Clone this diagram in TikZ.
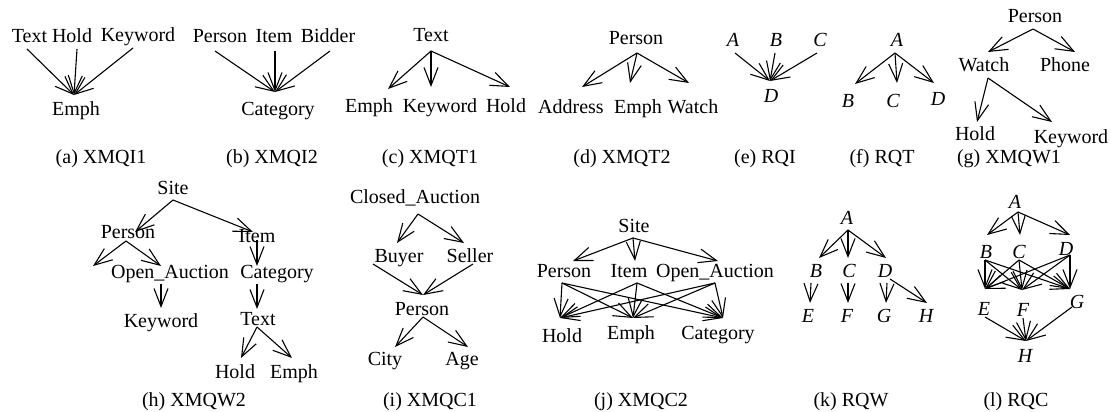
\documentclass[tikz,border=0pt]{standalone}
\usepackage{fontspec}
\setmainfont{Liberation Serif}
\usetikzlibrary{arrows.meta}

\tikzset{
  lb/.style={anchor=base, inner sep=0pt, outer xsep=0pt, outer ysep=2pt,
    text height=14pt, text depth=4pt, font=\fontsize{20}{24}\selectfont},
  it/.style={lb, font=\fontsize{20}{24}\selectfont\itshape},
  captxt/.style={anchor=base, inner sep=0pt, font=\fontsize{20}{24}\selectfont},
  conn/.style={line width=1.1pt, -{Straight Barb[length=18pt,width=14pt]}}
}

\begin{document}
\begin{tikzpicture}[x=1pt, y=-1pt]
\useasboundingbox[fill=white] (0,0) rectangle (1111,412);

% ---------- (a) XMQI1 ----------
\node[lb] (aText) at (29.5,43) {Text};
\node[lb] (aHold) at (72,43) {Hold};
\node[lb] (aKey)  at (138,42) {Keyword};
\node[lb] (aEmph) at (76,115) {Emph};
\draw[conn] ([xshift=-2.5pt]aText.south) -- ([xshift=-2pt,yshift=4pt]aEmph.north);
\draw[conn] ([xshift=5pt]aHold.south)   -- ([xshift=-2pt,yshift=4pt]aEmph.north);
\draw[conn] ([xshift=-5pt]aKey.south)   -- ([xshift=-2pt,yshift=4pt]aEmph.north);
\node[captxt] (capa) at (101,163) {(a) XMQI1};

% ---------- (b) XMQI2 ----------
\node[lb] (bPerson) at (220,43) {Person};
\node[lb] (bItem)   at (274,43) {Item};
\node[lb] (bBidder) at (328,43) {Bidder};
\node[lb] (bCat)    at (278,115) {Category};
\draw[conn] ([xshift=-5pt,yshift=-2pt]bPerson.south) -- ([xshift=-3pt,yshift=7pt]bCat.north);
\draw[conn] ([xshift=1pt,yshift=-2pt]bItem.south)    -- ([xshift=-3pt,yshift=7pt]bCat.north);
\draw[conn] ([xshift=2pt,yshift=-2pt]bBidder.south)  -- ([xshift=-3pt,yshift=7pt]bCat.north);
\node[captxt] (capb) at (272,163) {(b) XMQI2};

% ---------- (c) XMQT1 ----------
\node[lb] (cText) at (431,42) {Text};
\node[lb] (cEmph) at (369,112) {Emph};
\node[lb] (cKey)  at (440,112) {Keyword};
\node[lb] (cHold) at (506,112) {Hold};
\draw[conn] ([yshift=-3pt]cText.south) -- ([xshift=19pt,yshift=7pt]cEmph.north);
\draw[conn] ([yshift=-3pt]cText.south) -- ([xshift=-9pt,yshift=9pt]cKey.north);
\draw[conn] ([yshift=-3pt]cText.south) -- ([xshift=4pt,yshift=9pt]cHold.north);
\node[captxt] (capc) at (430,163) {(c) XMQT1};

% ---------- (d) XMQT2 ----------
\node[lb] (dPerson) at (636,45) {Person};
\node[lb] (dAddr)   at (571,113) {Address};
\node[lb] (dEmph)   at (638,113) {Emph};
\node[lb] (dWatch)  at (693,113) {Watch};
\draw[conn] ([xshift=1pt,yshift=-2pt]dPerson.south) -- ([xshift=11pt,yshift=10pt]dAddr.north);
\draw[conn] ([xshift=1pt,yshift=-2pt]dPerson.south) -- ([xshift=-8pt,yshift=14pt]dEmph.north);
\draw[conn] ([xshift=1pt,yshift=-2pt]dPerson.south) -- ([xshift=-4pt,yshift=14pt]dWatch.north);
\node[captxt] (capd) at (622,163) {(d) XMQT2};

% ---------- (e) RQI ----------
\node[it] (eA) at (733,47) {A};
\node[it] (eB) at (776,47) {B};
\node[it] (eC) at (820,47) {C};
\node[it] (eD) at (771,102) {D};
\draw[conn] ([xshift=2pt]eA.south)  -- ([xshift=-1pt,yshift=5pt]eD.north);
\draw[conn] ([xshift=-1pt]eB.south) -- ([xshift=-1pt,yshift=5pt]eD.north);
\draw[conn] ([xshift=-3pt]eC.south) -- ([xshift=-1pt,yshift=5pt]eD.north);
\node[captxt] (cape) at (765,163) {(e) RQI};

% ---------- (f) RQT ----------
\node[it] (fA) at (897,47) {A};
\node[it] (fB) at (848,107) {B};
\node[it] (fC) at (893,107) {C};
\node[it] (fD) at (938,106) {D};
\draw[conn] ([xshift=-2pt]fA.south) -- ([xshift=7pt,yshift=7pt]fB.north);
\draw[conn] ([xshift=-2pt]fA.south) -- ([xshift=4pt,yshift=8pt]fC.north);
\draw[conn] ([xshift=-2pt]fA.south) -- ([xshift=-4pt,yshift=7pt]fD.north);
\node[captxt] (capf) at (882,163) {(f) RQT};

% ---------- (g) XMQW1 ----------
\node[lb] (gPerson) at (1035,23) {Person};
\node[lb] (gWatch)  at (984,72) {Watch};
\node[lb] (gPhone)  at (1065,72) {Phone};
\node[lb] (gHold)   at (975,140) {Hold};
\node[lb] (gKey)    at (1071,143) {Keyword};
\draw[conn] ([xshift=-2pt]gPerson.south) -- ([xshift=4pt,yshift=4pt]gWatch.north);
\draw[conn] ([xshift=-2pt]gPerson.south) -- ([xshift=10pt,yshift=4pt]gPhone.north);
\draw[conn] ([xshift=4pt]gWatch.south)   -- ([xshift=2pt,yshift=2pt]gHold.north);
\draw[conn] ([xshift=4pt]gWatch.south)   -- ([xshift=-19pt,yshift=5pt]gKey.north);
\node[captxt] (capg) at (1009,163) {(g) XMQW1};

% ---------- (h) XMQW2 ----------
\node[lb] (hSite)   at (173,194) {Site};
\node[lb] (hPerson) at (128,238) {Person};
\node[lb] (hItem)   at (257,242) {Item};
\node[lb] (hOpen)   at (170,278) {Open\_Auction};
\node[lb] (hCat)    at (277,278) {Category};
\node[lb] (hKey)    at (161,327) {Keyword};
\node[lb] (hText)   at (258,325) {Text};
\node[lb] (hHold)   at (235,378) {Hold};
\node[lb] (hEmph)   at (294,378) {Emph};
\coordinate (hFree) at (93,266);
\draw[conn] (hSite.south) -- ([xshift=7pt,yshift=-10pt]hPerson.north);
\draw[conn] (hSite.south) -- ([xshift=-4pt,yshift=-6pt]hItem.north);
\draw[conn] ([xshift=-2pt,yshift=3pt]hPerson.south) -- (hFree);
\draw[conn] ([xshift=-2pt,yshift=3pt]hPerson.south) -- ([xshift=-9pt,yshift=-4pt]hOpen.north);
\draw[conn] ([yshift=8pt]hItem.south) -- ([xshift=-20pt,yshift=-4pt]hCat.north);
\draw[conn] ([xshift=-9pt]hOpen.south) -- ([yshift=3pt]hKey.north);
\draw[conn] ([xshift=-20pt]hCat.south) -- ([xshift=-1pt]hText.north);
\draw[conn] ([xshift=-1pt,yshift=4pt]hText.south) -- ([xshift=6pt,yshift=4pt]hHold.north);
\draw[conn] ([xshift=-1pt,yshift=4pt]hText.south) -- ([xshift=-2pt,yshift=4pt]hEmph.north);
\node[captxt] (caph) at (194,406) {(h) XMQW2};

% ---------- (i) XMQC1 ----------
\node[lb] (iCA)     at (415,203) {Closed\_Auction};
\node[lb] (iBuyer)  at (399,262) {Buyer};
\node[lb] (iSeller) at (470,262) {Seller};
\node[lb] (iPerson) at (422,315) {Person};
\node[lb] (iCity)   at (385,365) {City};
\node[lb] (iAge)    at (462,365) {Age};
\draw[conn] ([xshift=3pt,yshift=-5pt]iCA.south) -- ([xshift=-2pt,yshift=3pt]iBuyer.north);
\draw[conn] ([xshift=3pt,yshift=-5pt]iCA.south) -- ([xshift=-6pt,yshift=3pt]iSeller.north);
\draw[conn] ([xshift=-26pt,yshift=4pt]iBuyer.south) -- ([xshift=1pt,yshift=4pt]iPerson.north);
\draw[conn] ([xshift=3pt,yshift=4pt]iSeller.south)  -- ([xshift=1pt,yshift=4pt]iPerson.north);
\draw[conn] ([xshift=1pt,yshift=4pt]iPerson.south) -- ([xshift=10pt,yshift=2pt]iCity.north);
\draw[conn] ([xshift=1pt,yshift=4pt]iPerson.south) -- ([xshift=6pt,yshift=2pt]iAge.north);
\node[captxt] (capi) at (430,406) {(i) XMQC1};

% ---------- (j) XMQC2 ----------
\node[lb] (jSite)   at (634,232) {Site};
\node[lb] (jPerson) at (564,277) {Person};
\node[lb] (jItem)   at (629,277) {Item};
\node[lb] (jOpen)   at (715,277) {Open\_Auction};
\node[lb] (jHold)   at (562,342) {Hold};
\node[lb] (jEmph)   at (631,339) {Emph};
\node[lb] (jCat)    at (718,339) {Category};
\draw[conn] ([xshift=-1pt]jSite.south) -- ([xshift=9pt]jPerson.north);
\draw[conn] ([xshift=-1pt]jSite.south) -- ([xshift=6pt]jItem.north);
\draw[conn] ([xshift=-1pt]jSite.south) -- ([xshift=3pt]jOpen.north);
\foreach \s/\sx in {jPerson/-2pt, jItem/8pt, jOpen/0pt} {
  \draw[conn] ([xshift=\sx]\s.south) -- ([xshift=-2pt,yshift=8pt]jHold.north);
  \draw[conn] ([xshift=\sx]\s.south) -- ([xshift=2pt,yshift=5pt]jEmph.north);
  \draw[conn] ([xshift=\sx]\s.south) -- ([xshift=5pt,yshift=5pt]jCat.north);
}
\node[captxt] (capj) at (641,406) {(j) XMQC2};

% ---------- (k) RQW ----------
\node[it] (kA) at (847,224) {A};
\node[it] (kB) at (816,277) {B};
\node[it] (kC) at (849,277) {C};
\node[it] (kD) at (885,277) {D};
\node[it] (kE) at (808,322) {E};
\node[it] (kF) at (847,322) {F};
\node[it] (kG) at (884,322) {G};
\node[it] (kH) at (926,322) {H};
\draw[conn] ([xshift=1pt]kA.south) -- ([xshift=3pt,yshift=3pt]kB.north);
\draw[conn] ([xshift=1pt]kA.south) -- ([xshift=-1pt,yshift=3pt]kC.north);
\draw[conn] ([xshift=1pt]kA.south) -- ([xshift=1pt,yshift=3pt]kD.north);
\draw[conn] ([xshift=-5pt]kB.south) -- ([xshift=2pt,yshift=3pt]kE.north);
\draw[conn] ([xshift=-1pt]kC.south) -- ([xshift=1pt,yshift=3pt]kF.north);
\draw[conn] ([xshift=2pt]kD.south)  -- ([xshift=2pt,yshift=3pt]kG.north);
\draw[conn] ([xshift=5pt,yshift=4pt]kD.south) -- ([xshift=1pt,yshift=3pt]kH.north);
\node[captxt] (capk) at (851,406) {(k) RQW};

% ---------- (l) RQC ----------
\node[it] (lA) at (1015,208) {A};
\node[it] (lB) at (986,258) {B};
\node[it] (lC) at (1019,258) {C};
\node[it] (lD) at (1066,255) {D};
\node[it] (lE) at (984,315) {E};
\node[it] (lF) at (1023,316) {F};
\node[it] (lG) at (1077,308) {G};
\node[it] (lH) at (1025,362) {H};
\draw[conn] ([xshift=3pt,yshift=2pt]lA.south) -- ([xshift=1pt,yshift=7pt]lB.north);
\draw[conn] ([xshift=3pt,yshift=2pt]lA.south) -- ([xshift=1pt,yshift=7pt]lC.north);
\draw[conn] ([xshift=3pt,yshift=2pt]lA.south) -- ([xshift=4pt,yshift=4pt]lD.north);
\foreach \s/\sx/\sy in {lB/-1pt/4pt, lC/0pt/4pt, lD/4pt/6pt} {
  \draw[conn] ([xshift=\sx,yshift=\sy]\s.south) -- ([xshift=1pt,yshift=10pt]lE.north);
  \draw[conn] ([xshift=\sx,yshift=\sy]\s.south) -- ([xshift=-1pt,yshift=10pt]lF.north);
  \draw[conn] ([xshift=\sx,yshift=\sy]\s.south) -- ([xshift=-7pt,yshift=3pt]lG.north);
}
\draw[conn] ([xshift=1pt,yshift=4pt]lE.south) -- ([xshift=1pt,yshift=5pt]lH.north);
\draw[conn] ([yshift=4pt]lF.south) -- ([xshift=1pt,yshift=5pt]lH.north);
\draw[conn] ([xshift=-5pt,yshift=7pt]lG.south) -- ([xshift=1pt,yshift=5pt]lH.north);
\node[captxt] (capl) at (1016,406) {(l) RQC};

\end{tikzpicture}
\end{document}
